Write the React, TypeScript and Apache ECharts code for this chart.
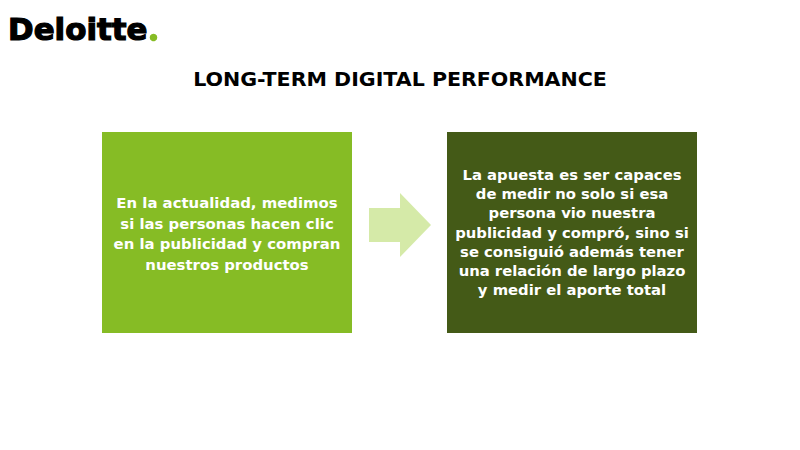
import { useEffect, useRef } from 'react';
import * as echarts from 'echarts';

const brand = 'Deloitte';
const title = 'LONG-TERM DIGITAL PERFORMANCE';
const leftLines = [
  'En la actualidad, medimos',
  'si las personas hacen clic',
  'en la publicidad y compran',
  'nuestros productos',
];
const rightLines = [
  'La apuesta es ser capaces',
  'de medir no solo si esa',
  'persona vio nuestra',
  'publicidad y compró, sino si',
  'se consiguió además tener',
  'una relación de largo plazo',
  'y medir el aporte total',
];

const FONT = '"DejaVu Sans", Verdana, sans-serif';

export default function App() {
  const chartRef = useRef<HTMLDivElement>(null);

  useEffect(() => {
    if (!chartRef.current) return;
    document.body.style.margin = '0';
    const myChart = echarts.init(chartRef.current, null, { renderer: 'svg' });

    const option = {
      animation: false,
      backgroundColor: '#ffffff',
      graphic: [
        // logo
        {
          type: 'text',
          x: 8,
          y: 30,
          scaleX: 1.03,
          style: {
            text: brand,
            font: `bold 30px ${FONT}`,
            fill: '#000000',
            stroke: '#000000',
            lineWidth: 1.2,
            verticalAlign: 'middle',
          },
        },
        { type: 'circle', shape: { cx: 153.5, cy: 37.5, r: 3.8 }, style: { fill: '#86bc25' } },
        // title
        {
          type: 'text',
          x: 400,
          y: 80,
          scaleX: 1.1,
          style: {
            text: title,
            font: `bold 18.7px ${FONT}`,
            fill: '#000000',
            align: 'center',
            verticalAlign: 'middle',
          },
        },
        // left box
        { type: 'rect', shape: { x: 102, y: 132, width: 250, height: 201 }, style: { fill: '#86bc25' } },
        {
          type: 'text',
          x: 227,
          y: 234,
          style: {
            text: leftLines.join('\n'),
            font: `bold 14.9px ${FONT}`,
            lineHeight: 20.7,
            fill: '#ffffff',
            align: 'center',
            verticalAlign: 'middle',
          },
        },
        // arrow
        {
          type: 'polygon',
          shape: {
            points: [
              [369, 208], [400, 208], [400, 193], [431, 225],
              [400, 257], [400, 242], [369, 242],
            ],
          },
          style: { fill: '#d5eaa8' },
        },
        // right box
        { type: 'rect', shape: { x: 447, y: 132, width: 250, height: 201 }, style: { fill: '#445a17' } },
        {
          type: 'text',
          x: 572,
          y: 232,
          style: {
            text: rightLines.join('\n'),
            font: `bold 14.8px ${FONT}`,
            lineHeight: 19.3,
            fill: '#ffffff',
            align: 'center',
            verticalAlign: 'middle',
          },
        },
      ],
    };

    myChart.setOption(option);

    const handleResize = () => myChart.resize();
    window.addEventListener('resize', handleResize);

    return () => {
      window.removeEventListener('resize', handleResize);
      myChart.dispose();
    };
  }, []);

  return <div ref={chartRef} style={{ width: '800px', height: '450px' }} />;
}
